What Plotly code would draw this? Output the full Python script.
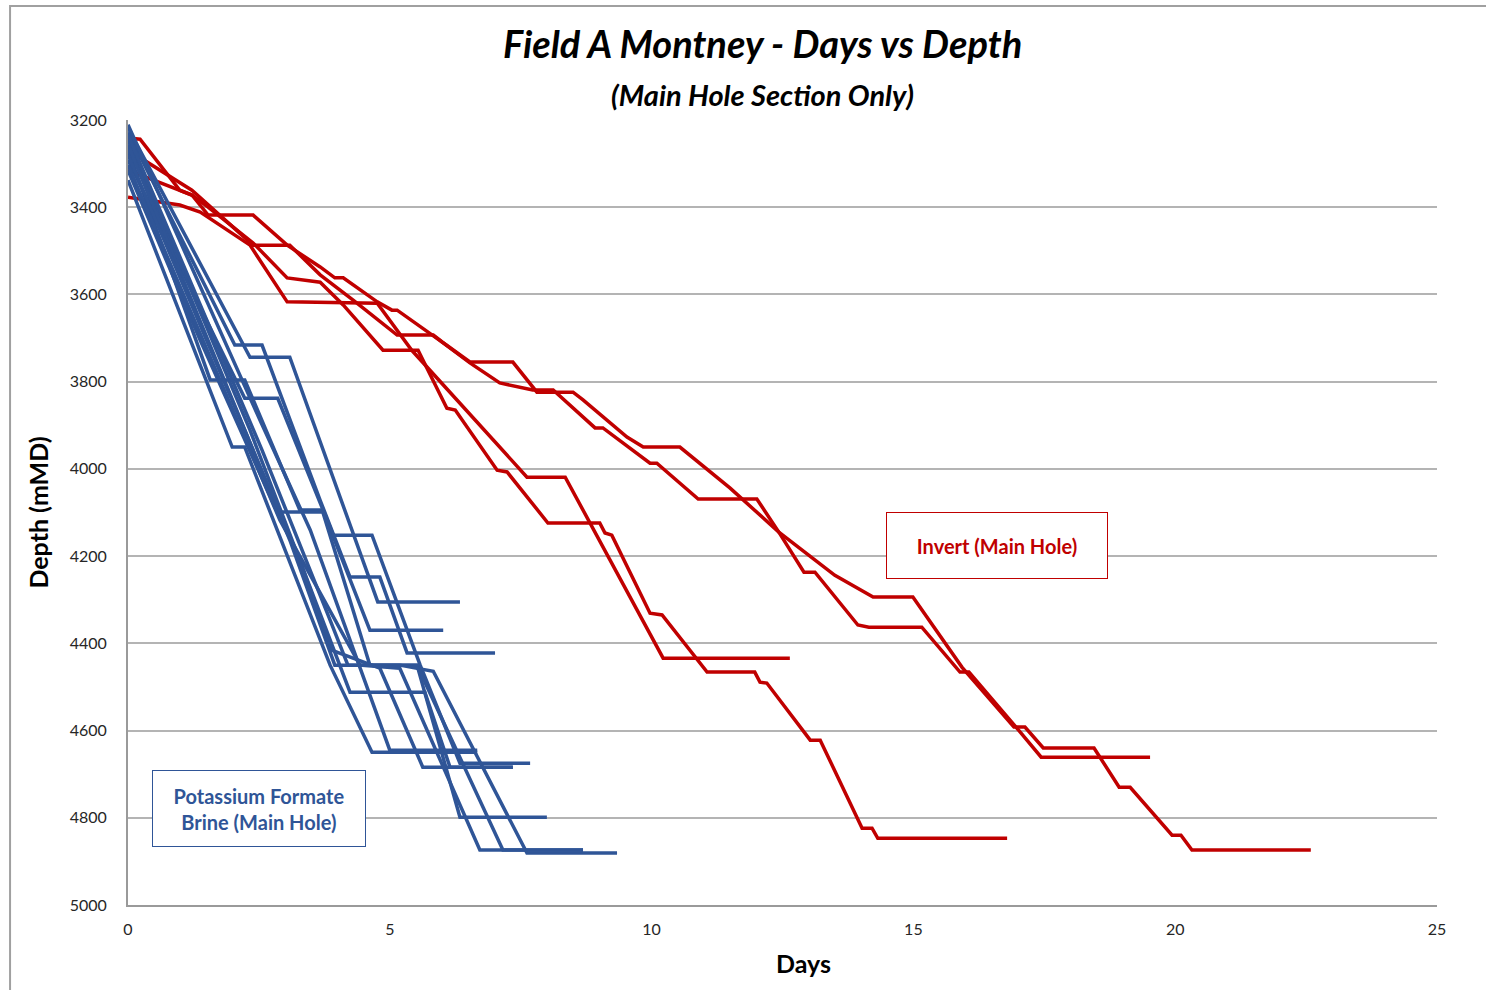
import plotly.graph_objects as go

# ---- Invert (oil-based) wells: cumulative days vs measured depth (m) ----
inv1_days = [0, 0.99, 1.38, 2.33, 3.04, 4.76, 5.42, 7.62, 8.35, 10.22, 12.64]
inv1_depth = [3377, 3395, 3411, 3487, 3617, 3620, 3728, 4019, 4019, 4434, 4434]

inv2_days = [0, 0.99, 1.22, 1.53, 2.39, 3.04, 3.67, 4.11, 4.87, 5.54, 6.09, 6.25, 7.05, 7.24,
             8.02, 9.01, 9.11, 9.24, 9.97, 10.20, 11.06, 11.97, 12.07, 12.20, 13.03, 13.22,
             14.02, 14.21, 14.32, 16.79]
inv2_depth = [3315, 3361, 3372, 3400, 3482, 3562, 3572, 3624, 3728, 3728, 3861, 3865, 4003, 4007,
              4124, 4124, 4147, 4152, 4331, 4335, 4466, 4466, 4489, 4491, 4622, 4622,
              4824, 4824, 4847, 4847]

inv3_days = [0, 0.23, 0.99, 1.22, 1.53, 2.39, 3.04, 3.67, 3.95, 4.11, 4.76, 5.04, 5.14, 5.83,
             6.02, 6.53, 7.10, 7.73, 8.12, 8.92, 9.07, 9.97, 10.10, 10.89, 12.01, 12.43,
             12.91, 13.12, 13.94, 14.15, 15.16, 15.89, 16.06, 16.96, 17.44, 19.52]
inv3_depth = [3241, 3244, 3361, 3372, 3418, 3418, 3487, 3537, 3562, 3562, 3617, 3636, 3636, 3693,
              3711, 3757, 3803, 3819, 3819, 3906, 3906, 3987, 3987, 4069, 4069, 4145,
              4237, 4237, 4358, 4363, 4363, 4466, 4466, 4592, 4661, 4661]

inv4_days = [0, 0.90, 1.22, 2.39, 3.09, 3.67, 4.30, 5.14, 5.83, 6.00, 6.53, 7.35, 7.81, 8.50,
             8.69, 9.53, 9.84, 10.54, 11.50, 12.43, 13.50, 14.23, 14.99, 15.93, 16.92, 17.13,
             17.48, 18.45, 18.93, 19.14, 19.94, 20.11, 20.32, 22.59]
inv4_depth = [3269, 3338, 3361, 3487, 3487, 3555, 3613, 3693, 3693, 3709, 3755, 3755, 3824, 3824,
              3842, 3927, 3950, 3950, 4044, 4145, 4244, 4294, 4294, 4455, 4592, 4592,
              4640, 4640, 4730, 4730, 4840, 4840, 4874, 4874]

# ---- Potassium formate brine wells ----
kf1_days = [0, 2.04, 2.56, 3.09, 3.67, 4.24, 4.81, 5.33, 7.01]
kf1_depth = [3228, 3716, 3716, 3888, 4072, 4248, 4248, 4422, 4422]

kf2_days = [0, 2.33, 3.09, 4.77, 6.34]
kf2_depth = [3218, 3744, 3744, 4305, 4305]

kf3_days = [0, 1.57, 2.23, 3.28, 3.72, 4.62, 6.02]
kf3_depth = [3269, 3796, 3796, 4094, 4094, 4370, 4370]

kf4_days = [0, 2.23, 2.86, 3.92, 4.66, 5.58, 6.34, 7.68]
kf4_depth = [3292, 3838, 3838, 4152, 4152, 4450, 4675, 4675]

kf5_days = [0, 1.99, 2.23, 3.86, 4.66, 6.67]
kf5_depth = [3338, 3950, 3950, 4450, 4650, 4650]

kf6_days = [0, 1.38, 2.85, 3.72, 4.24, 4.62, 5.52, 6.34, 8.00]
kf6_depth = [3315, 3705, 4099, 4099, 4301, 4450, 4450, 4799, 4799]

kf7_days = [0, 2.33, 3.28, 4.24, 5.67, 6.15, 7.35]
kf7_depth = [3246, 3911, 4209, 4512, 4512, 4684, 4684]

kf8_days = [0, 2.56, 3.86, 4.20, 5.52, 7.16, 8.69]
kf8_depth = [3234, 3957, 4347, 4450, 4450, 4874, 4874]

kf9_days = [0, 3.09, 3.95, 5.19, 5.83, 7.62, 9.34]
kf9_depth = [3257, 4163, 4450, 4450, 4464, 4881, 4881]

kf10_days = [0, 3.28, 3.90, 4.81, 5.63, 7.35]
kf10_depth = [3280, 4209, 4416, 4457, 4684, 4684]

kf11_days = [0, 2.90, 4.43, 5.19, 6.72, 8.69]
kf11_depth = [3303, 4117, 4450, 4457, 4874, 4874]

kf12_days = [0, 2.52, 3.48, 5.00, 6.67]
kf12_depth = [3211, 3888, 4140, 4645, 4645]

invert_wells = [(inv1_days, inv1_depth), (inv2_days, inv2_depth),
                (inv3_days, inv3_depth), (inv4_days, inv4_depth)]
brine_wells = [(kf1_days, kf1_depth), (kf2_days, kf2_depth), (kf3_days, kf3_depth),
               (kf4_days, kf4_depth), (kf5_days, kf5_depth), (kf6_days, kf6_depth),
               (kf7_days, kf7_depth), (kf8_days, kf8_depth), (kf9_days, kf9_depth),
               (kf10_days, kf10_depth), (kf11_days, kf11_depth), (kf12_days, kf12_depth)]

depth_ticks = [3200, 3400, 3600, 3800, 4000, 4200, 4400, 4600, 4800, 5000]
day_ticks = [0, 5, 10, 15, 20, 25]

RED = "#c00000"
BLUE = "#2f5597"
GRID = "#b4b4b4"
FONT = "Lato, 'Open Sans', sans-serif"

fig = go.Figure()

for d, z in invert_wells:
    fig.add_trace(go.Scatter(x=d, y=z, mode="lines",
                             line=dict(color=RED, width=3.5), hoverinfo="skip"))
for d, z in brine_wells:
    fig.add_trace(go.Scatter(x=d, y=z, mode="lines",
                             line=dict(color=BLUE, width=3.5), hoverinfo="skip"))

fig.update_layout(
    width=1486, height=990,
    margin=dict(l=128, r=49, t=120, b=85),
    paper_bgcolor="white", plot_bgcolor="white",
    showlegend=False,
    font=dict(family=FONT, color="#262626"),
    xaxis=dict(range=[0, 25], tickvals=day_ticks, showgrid=False, zeroline=False,
               showline=True, linecolor="#9a9a9a", linewidth=2,
               tickfont=dict(size=16), ticks="", ticklabelstandoff=9),
    yaxis=dict(range=[5000, 3200], tickvals=depth_ticks, showgrid=True, gridcolor=GRID,
               gridwidth=1.5, zeroline=False, showline=True, linecolor="#9a9a9a", linewidth=2,
               tickfont=dict(size=16), ticks="", ticklabelstandoff=16,
               title=dict(text="<b>Depth (mMD)</b>", font=dict(size=25, color="black"),
                          standoff=14)),
)

# outer chart frame (top and left edges visible)
fig.add_shape(type="rect", xref="paper", yref="paper",
              x0=-0.0901, x1=1.06, y0=-0.13, y1=1.1452,
              line=dict(color="#a0a0a0", width=2), fillcolor="rgba(0,0,0,0)", layer="below")

# titles
fig.add_annotation(xref="paper", yref="paper", x=0.485, y=1.0975, showarrow=False,
                   text="<b><i>Field A Montney - Days vs Depth</i></b>",
                   font=dict(size=38, color="black"), xanchor="center", yanchor="middle")
fig.add_annotation(xref="paper", yref="paper", x=0.485, y=1.032, showarrow=False,
                   text="<b><i>(Main Hole Section Only)</i></b>",
                   font=dict(size=29, color="black"), xanchor="center", yanchor="middle")

# x-axis title
fig.add_annotation(xref="paper", yref="paper", x=0.5157, y=-0.074, showarrow=False,
                   text="<b>Days</b>", font=dict(size=25, color="black"),
                   xanchor="center", yanchor="middle")

# group labels
fig.add_annotation(x=16.60, y=4175, showarrow=False, text="<b>Invert (Main Hole)</b>",
                   font=dict(size=20, color=RED), width=220, height=65,
                   bordercolor=RED, borderwidth=1, borderpad=0, bgcolor="white",
                   xanchor="center", yanchor="middle")
fig.add_annotation(x=2.50, y=4778, showarrow=False,
                   text="<b>Potassium Formate<br>Brine (Main Hole)</b>",
                   font=dict(size=20, color=BLUE), width=212, height=75,
                   bordercolor=BLUE, borderwidth=1, borderpad=0, bgcolor="white",
                   xanchor="center", yanchor="middle")

fig.write_html("out.html")
